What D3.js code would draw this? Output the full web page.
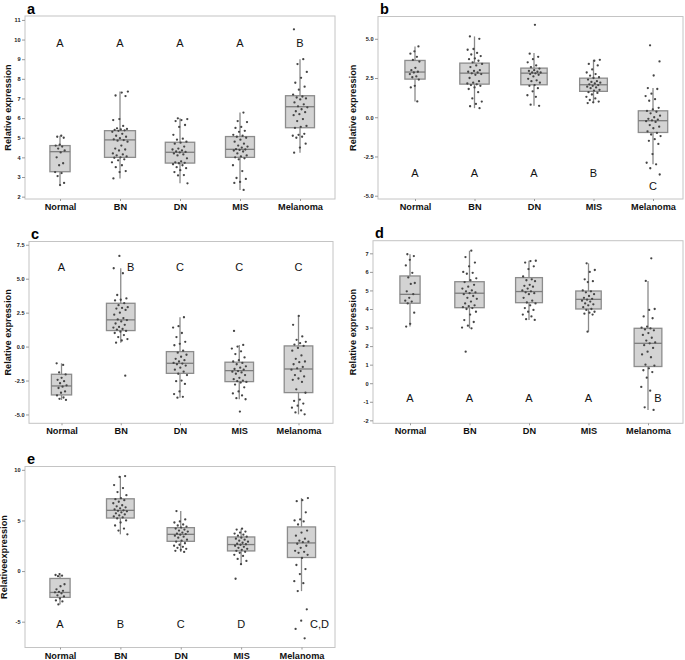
<!DOCTYPE html>
<html><head><meta charset="utf-8">
<script src="https://cdn.jsdelivr.net/npm/d3@7"></script>
<style>body{margin:0;background:#fff}svg{display:block}</style>
</head><body>
<svg id="chart" width="685" height="660"></svg>
<script>
const categories = ["Normal","BN","DN","MIS","Melanoma"];

// ---- panel a ----
const aPoints = [
  [5.1,5.05,5.0,4.65,4.6,4.55,4.45,4.35,4.25,4.0,3.7,3.6,3.25,3.2,3.05,2.7,2.59],
  [7.35,7.3,7.15,7.12,5.95,5.9,5.6,5.48,5.45,5.42,5.4,5.38,5.35,5.3,5.2,5.1,5.05,4.98,4.92,4.88,4.85,4.8,4.6,4.45,4.4,4.35,4.2,4.15,4.1,4.05,4.0,3.98,3.9,3.85,3.75,3.6,3.5,3.3,3.25,2.93],
  [5.99,5.95,5.9,5.85,5.65,5.55,5.15,4.95,4.9,4.8,4.75,4.7,4.55,4.45,4.4,4.35,4.3,4.28,4.25,4.2,4.15,4.1,3.95,3.8,3.75,3.72,3.7,3.65,3.6,3.5,3.45,3.35,3.25,3.1,3.08,2.68],
  [6.28,5.85,5.8,5.55,5.5,5.35,5.3,5.15,5.1,5.05,5.0,4.9,4.8,4.7,4.6,4.55,4.5,4.42,4.4,4.38,4.35,4.3,4.2,4.1,4.05,4.0,3.95,3.9,3.6,3.3,2.95,2.9,2.75,2.7,2.34],
  [10.52,9.0,8.75,8.35,8.05,7.8,7.6,7.45,7.2,7.1,7.05,7.0,6.95,6.8,6.7,6.6,6.55,6.45,6.35,6.3,6.2,6.15,5.95,5.85,5.6,5.55,5.5,5.2,5.15,5.1,5.05,5.0,4.7,4.5,4.24]
];
const aBoxes = [[2.59,3.27,4.29,4.60,5.1],[2.93,4.0,4.89,5.36,7.35],[2.68,3.71,4.26,4.77,5.99],[2.34,4.0,4.41,5.06,6.28],[4.24,5.51,6.58,7.14,9.0]];
const aLetters = ["A","A","A","A","B"];
const aTicks = [2,3,4,5,6,7,8,9,10,11];
const aTickLabels = ["2","3","4","5","6","7","8","9","10","11"];

// ---- panel b ----
const bPoints = [
  [4.51,4.2,4.05,3.85,3.65,3.55,3.15,3.0,2.9,2.85,2.75,2.6,2.55,2.4,2.0,1.9,1.01],
  [5.15,5.0,4.35,4.3,4.1,4.0,3.9,3.75,3.7,3.6,3.5,3.4,3.3,3.2,3.0,2.95,2.9,2.85,2.8,2.75,2.7,2.5,2.3,2.2,2.15,2.1,2.05,2.0,1.9,1.8,1.6,1.2,1.0,0.85,0.7,0.58],
  [5.89,4.05,3.85,3.7,3.5,3.3,3.2,3.1,3.0,2.95,2.9,2.85,2.85,2.8,2.75,2.7,2.6,2.45,2.35,2.3,2.2,2.05,2.0,1.85,1.65,1.4,1.3,0.8,0.73],
  [3.66,3.6,3.4,3.3,3.05,2.85,2.75,2.65,2.55,2.5,2.4,2.3,2.25,2.2,2.15,2.1,2.05,2.0,1.95,1.9,1.85,1.75,1.7,1.6,1.55,1.45,1.3,1.2,1.1,1.0,0.95,0.9],
  [4.58,3.56,2.66,1.86,1.8,1.5,1.35,1.15,1.05,0.6,0.5,0.4,0.35,0.25,0.1,0.0,-0.1,-0.15,-0.2,-0.25,-0.3,-0.5,-0.6,-0.7,-0.9,-1.0,-1.1,-1.2,-1.4,-1.5,-1.7,-2.35,-2.9,-3.0,-3.25,-3.65]
];
const bBoxes = [[1.01,2.43,2.88,3.62,4.51],[0.58,2.11,2.81,3.45,5.15],[0.73,2.07,2.81,3.13,4.09],[0.9,1.65,2.07,2.49,3.66],[-3.0,-0.97,-0.22,0.41,1.86]];
const bLetters = ["A","A","A","B","C"];
const bTicks = [-5,-2.5,0,2.5,5];
const bTickLabels = ["-5.0","-2.5","0.0","2.5","5.0"];

// ---- panel c ----
const cPoints = [
  [-1.23,-1.35,-1.9,-2.05,-2.3,-2.45,-2.55,-2.7,-2.85,-2.95,-3.05,-3.3,-3.4,-3.6,-3.75,-3.85,-3.93],
  [6.68,5.77,5.4,3.8,3.55,3.45,3.4,3.2,3.05,2.9,2.85,2.8,2.7,2.5,2.35,2.1,2.0,1.95,1.85,1.7,1.6,1.45,1.4,1.3,1.25,1.15,1.1,1.0,0.85,0.7,0.55,0.45,0.29,-2.14],
  [2.16,1.5,1.4,1.0,0.7,0.35,0.2,0.1,-0.3,-0.45,-0.6,-0.75,-0.9,-1.0,-1.1,-1.2,-1.25,-1.3,-1.4,-1.55,-1.7,-1.85,-2.0,-2.1,-2.5,-2.55,-2.75,-3.3,-3.5,-3.7,-3.76],
  [1.15,0.12,0.0,-0.15,-0.35,-0.55,-0.8,-1.0,-1.1,-1.2,-1.3,-1.45,-1.55,-1.65,-1.7,-1.8,-1.85,-1.9,-2.0,-2.1,-2.3,-2.4,-2.5,-2.55,-2.6,-2.65,-2.8,-3.0,-3.3,-3.45,-3.6,-3.8,-3.88,-4.79],
  [2.26,1.6,0.75,0.5,0.35,0.25,0.15,0.05,-0.1,-0.3,-0.65,-0.9,-1.1,-1.15,-1.3,-1.5,-1.6,-1.7,-1.8,-2.1,-2.2,-2.35,-2.45,-2.6,-3.15,-3.4,-3.9,-4.0,-4.2,-4.35,-4.5,-4.7,-4.85,-4.99]
];
const cBoxes = [[-3.93,-3.56,-2.9,-2.04,-1.23],[0.29,1.18,1.97,3.19,5.77],[-3.76,-1.97,-1.23,-0.37,2.16],[-3.88,-2.58,-1.77,-1.15,0.12],[-4.99,-3.39,-1.65,0.05,2.26]];
const cLetters = ["A","B","C","C","C"];
const cTicks = [-5,-2.5,0,2.5,5,7.5];
const cTickLabels = ["-5.0","-2.5","0.0","2.5","5.0","7.5"];

// ---- panel d ----
const dPoints = [
  [6.95,6.85,6.65,6.35,5.95,5.7,5.4,5.35,4.95,4.8,4.6,4.45,4.4,4.3,3.8,3.2,3.05],
  [7.14,6.8,6.5,6.3,6.0,5.95,5.9,5.65,5.55,5.45,5.3,5.2,5.1,5.0,4.95,4.9,4.85,4.8,4.7,4.6,4.55,4.4,4.3,4.2,4.15,4.1,4.05,4.0,3.85,3.7,3.4,3.3,3.1,3.0,2.96,1.7],
  [6.6,6.58,6.5,6.3,6.15,5.75,5.6,5.55,5.5,5.3,5.25,5.2,5.1,5.0,4.95,4.9,4.85,4.8,4.6,4.45,4.35,4.3,4.2,4.05,3.95,3.85,3.7,3.6,3.45,3.41],
  [6.46,6.1,6.0,5.6,5.5,5.45,5.0,4.95,4.9,4.8,4.7,4.6,4.55,4.5,4.45,4.4,4.3,4.25,4.2,4.1,4.0,3.95,3.85,3.8,3.75,3.7,2.78],
  [6.73,5.51,4.0,3.95,3.6,3.5,3.05,3.0,2.95,2.9,2.85,2.7,2.6,2.45,2.3,2.2,2.15,2.05,1.9,1.7,1.55,1.4,1.0,0.95,0.8,0.7,0.6,0.3,-0.2,-0.4,-1.3,-1.44]
];
const dBoxes = [[3.05,4.31,4.79,5.78,6.95],[2.96,4.07,4.85,5.47,7.14],[3.41,4.34,4.94,5.69,6.6],[2.78,4.0,4.52,4.97,6.46],[-1.44,0.9,2.15,2.96,5.51]];
const dLetters = ["A","A","A","A","B"];
const dTicks = [-2,-1,0,1,2,3,4,5,6,7];
const dTickLabels = ["-2","-1","0","1","2","3","4","5","6","7"];

// ---- panel e ----
const ePoints = [
  [-0.3,-0.39,-0.45,-0.5,-1.3,-1.5,-1.8,-1.95,-2.05,-2.1,-2.2,-2.4,-2.5,-2.7,-2.9,-3.0,-3.29],
  [9.38,9.3,8.5,8.2,7.8,7.5,7.2,7.1,7.0,6.85,6.7,6.5,6.4,6.3,6.2,6.1,6.0,5.95,5.9,5.8,5.7,5.6,5.5,5.4,5.3,5.2,5.0,4.8,4.5,4.2,4.0,3.63],
  [5.93,5.1,4.9,4.8,4.6,4.5,4.4,4.3,4.2,4.1,4.0,3.9,3.8,3.7,3.65,3.6,3.5,3.4,3.3,3.1,3.0,2.9,2.75,2.6,2.5,2.4,2.3,2.2,2.1,2.0,1.89],
  [4.19,4.1,3.9,3.8,3.7,3.6,3.5,3.4,3.3,3.2,3.1,3.0,2.9,2.8,2.7,2.65,2.6,2.5,2.4,2.3,2.2,2.1,2.0,1.9,1.8,1.6,1.5,1.2,1.0,0.68,-0.76],
  [7.21,7.0,6.9,5.8,5.1,5.0,4.9,4.6,4.0,3.8,3.5,3.2,3.0,2.9,2.85,2.7,2.5,2.3,2.0,1.9,1.8,1.6,1.3,0.6,0.2,-0.3,-1.0,-1.2,-1.98,-3.78,-4.9,-5.72,-6.64]
];
const eBoxes = [[-3.29,-2.6,-2.11,-0.73,-0.39],[3.63,5.24,6.0,7.14,9.38],[1.89,2.94,3.63,4.29,5.93],[0.68,1.99,2.62,3.37,4.19],[-1.98,1.34,2.78,4.36,7.21]];
const eLetters = ["A","B","C","D","C,D"];
const eTicks = [-5,0,5,10];
const eTickLabels = ["-5","0","5","10"];

// ---- layout (positions only) ----
const panels = [
  {tag:"a", pts:aPoints, box:aBoxes, let:aLetters, ticks:aTicks, tl:aTickLabels, ylab:"Relative expression", labX:10.5,
   fx:[25,335], fy:[16,199], dom:[1.88,11.2], cx:[60,300], letY:47, letDX:[0,0,0,0,0]},
  {tag:"b", pts:bPoints, box:bBoxes, let:bLetters, ticks:bTicks, tl:bTickLabels, ylab:"Relative expression", labX:356,
   fx:[378,683], fy:[16.5,199], dom:[-5.21,6.42], cx:[415,653], letY:177, letYs:[177,177,177,177,190], letDX:[0,0,0,0,0]},
  {tag:"c", pts:cPoints, box:cBoxes, let:cLetters, ticks:cTicks, tl:cTickLabels, ylab:"Relative expression", labX:10.7,
   fx:[29,333], fy:[241.5,423.3], dom:[-5.65,7.74], cx:[61.5,298.5], letY:270.5, letDX:[0,10,0,0,0]},
  {tag:"d", pts:dPoints, box:dBoxes, let:dLetters, ticks:dTicks, tl:dTickLabels, ylab:"Relative expression", labX:356,
   fx:[373,683], fy:[240.7,423.3], dom:[-2.16,7.68], cx:[410,648], letY:402, letDX:[0,0,0,0,10]},
  {tag:"e", pts:ePoints, box:eBoxes, let:eLetters, ticks:eTicks, tl:eTickLabels, ylab:"Relativeexpression", labX:6.5,
   fx:[25,335], fy:[466.5,647.5], dom:[-7.55,10.33], cx:[60,301.5], letY:628, letDX:[0,0,0,0,18]}
];

const svg = d3.select("#chart");
const FONT = "'Liberation Sans', Arial, sans-serif";

panels.forEach((p, pi) => {
  const g = svg.append("g");
  const x = d3.scalePoint().domain(categories).range(p.cx);
  const y = d3.scaleLinear().domain(p.dom).range([p.fy[1], p.fy[0]]);

  // frame
  g.append("rect").attr("x", p.fx[0]).attr("y", p.fy[0])
    .attr("width", p.fx[1]-p.fx[0]).attr("height", p.fy[1]-p.fy[0])
    .attr("fill","none").attr("stroke","#c4c4c4").attr("stroke-width",1);

  // y axis
  const yAxis = d3.axisLeft(y).tickValues(p.ticks).tickSize(3).tickPadding(1.5)
    .tickFormat((d,i) => p.tl[i]);
  const ya = g.append("g").attr("transform", `translate(${p.fx[0]},0)`).call(yAxis);
  ya.select(".domain").remove();
  ya.selectAll("line").attr("stroke","#999");
  ya.selectAll("text").attr("font-family",FONT).attr("font-size",5.6).attr("font-weight","bold").attr("fill","#222");

  // x axis
  const xAxis = d3.axisBottom(x).tickSize(2).tickPadding(2.5);
  const xa = g.append("g").attr("transform", `translate(0,${p.fy[1]})`).call(xAxis);
  xa.select(".domain").remove();
  xa.selectAll("line").attr("stroke","#999");
  xa.selectAll("text").attr("font-family",FONT).attr("font-size",9.2).attr("font-weight","bold").attr("fill","#111");

  // y label
  g.append("text")
    .attr("transform", `translate(${p.labX},${(p.fy[0]+p.fy[1])/2}) rotate(-90)`)
    .attr("text-anchor","middle").attr("font-family",FONT).attr("font-size",9.2)
    .attr("font-weight","bold").attr("fill","#111").text(p.ylab);

  // panel tag
  g.append("text").attr("x", p.fx[0] + 2).attr("y", p.fy[0] - 2.5)
    .attr("font-family",FONT).attr("font-size",14.5).attr("font-weight","bold").attr("fill","#000")
    .text(p.tag);

  // boxes
  categories.forEach((c, ci) => {
    const [lo,q1,med,q3,hi] = p.box[ci];
    const n = p.pts[ci].length;
    const w = 4.9 * Math.sqrt(n);
    const cx = x(c);
    const bg = g.append("g");
    bg.append("line").attr("x1",cx).attr("x2",cx).attr("y1",y(hi)).attr("y2",y(q3))
      .attr("stroke","#8a8a8a").attr("stroke-width",1.3);
    bg.append("line").attr("x1",cx).attr("x2",cx).attr("y1",y(q1)).attr("y2",y(lo))
      .attr("stroke","#8a8a8a").attr("stroke-width",1.3);
    bg.append("rect").attr("x",cx-w/2).attr("y",y(q3)).attr("width",w).attr("height",y(q1)-y(q3))
      .attr("fill","#d3d3d3").attr("stroke","#8c8c8c").attr("stroke-width",1.3);
    bg.append("line").attr("x1",cx-w/2).attr("x2",cx+w/2).attr("y1",y(med)).attr("y2",y(med))
      .attr("stroke","#7d7d7d").attr("stroke-width",1.3);

    // jittered points (deterministic spread)
    const jw = w * 0.26;
    g.append("g").selectAll("circle").data(p.pts[ci]).join("circle")
      .attr("cx", (d,i) => cx + ((((i+1)*0.6180339 + ci*0.37 + pi*0.21) % 1) - 0.5) * 2 * jw)
      .attr("cy", d => y(d))
      .attr("r", 1.15).attr("fill","#454545");

    // letters
    const ly = p.letYs ? p.letYs[ci] : p.letY;
    g.append("text").attr("x", cx + p.letDX[ci]).attr("y", ly)
      .attr("text-anchor","middle").attr("font-family",FONT).attr("font-size",11)
      .attr("fill","#111").text(p.let[ci]);
  });
});
</script>
</body></html>
